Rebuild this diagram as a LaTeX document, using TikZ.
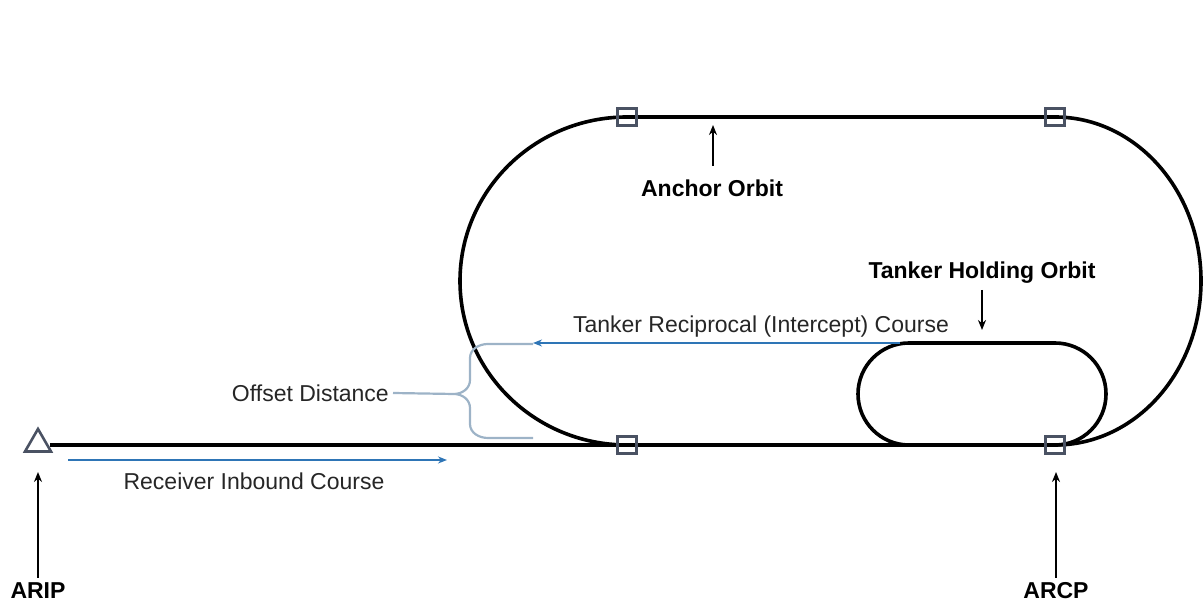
\documentclass[tikz,border=0pt]{standalone}
\usepackage{fontspec}
\setmainfont{Liberation Sans}
\usetikzlibrary{arrows.meta,shapes.geometric}
\definecolor{courseblue}{HTML}{2E75B6}
\definecolor{bracegray}{HTML}{9DB3C7}
\definecolor{markgray}{HTML}{4A5263}
\definecolor{txtgray}{HTML}{262626}
\tikzset{
  orbit/.style={line width=3.6pt, black},
  marker/.style={draw=markgray, line width=2.2pt, minimum width=19pt, minimum height=17pt, inner sep=0pt, fill=none},
  tri/.style={regular polygon, regular polygon sides=3, draw=markgray, line width=2.6pt, minimum size=30pt, inner sep=0pt},
  lab/.style={font=\fontsize{23}{27}\selectfont, text=txtgray, inner sep=1pt},
  blab/.style={font=\fontsize{23}{27}\selectfont\bfseries, text=black, inner sep=1pt},
  pointer/.style={line width=2.4pt, -{Stealth[length=10pt,width=8pt]}},
  course/.style={line width=2.8pt, courseblue, -{Stealth[length=9pt,width=7pt]}},
  bracestyle/.style={line width=2.2pt, bracegray}
}
\begin{document}
\begin{tikzpicture}[x=1pt,y=1pt]
\useasboundingbox (0,0) rectangle (1204,604);
% anchor orbit
\draw[orbit] (627,487) -- (1055,487) arc[start angle=90,end angle=-90,x radius=146,y radius=164]
  (1055,159) -- (627,159) arc[start angle=270,end angle=90,x radius=167,y radius=164];
% receiver inbound line
\draw[orbit] (50,159) -- (627,159);
% tanker holding orbit
\draw[orbit] (909,261) -- (1055,261) arc[start angle=90,end angle=-90,radius=51]
  -- (909,159) arc[start angle=270,end angle=90,radius=51] -- cycle;
% markers
\node[marker] (sqTL) at (627,487) {};
\node[marker] (sqTR) at (1055,487) {};
\node[marker] (sqBL) at (627,159) {};
\node[marker] (sqBR) at (1055,159) {};
\node[tri] (arip) at (38,160) {};
% courses
\coordinate (recS) at (68,144);
\coordinate (recE) at (447,144);
\draw[course] (recS) -- (recE);
\coordinate (tanS) at (900,261);
\coordinate (tanE) at (533,261);
\draw[course] (tanS) -- (tanE);
% brace
\draw[bracestyle] (533,260) -- (488,260) to[out=180,in=90] (470,246) -- (470,224)
  to[out=270,in=0] (454,210) to[out=0,in=90] (470,196) -- (470,180)
  to[out=270,in=180] (488,166) -- (533,166);
\coordinate (braceTip) at (454,210);
% labels
\node[lab] (recvlab) at (254,123) {Receiver Inbound Course};
\node[lab] (tanlab) at (761,277) {Tanker Reciprocal (Intercept) Course};
\node[lab, anchor=east] (offlab) at (390,211) {Offset Distance};
\draw[bracestyle] (offlab.east) ++(3,0) -- (braceTip);
\node[blab] (anclab) at (712,416) {Anchor Orbit};
\node[blab] (holdlab) at (982,331) {Tanker Holding Orbit};
\node[blab] (ariplab) at (38,13) {ARIP};
\node[blab] (arcplab) at (1056,13) {ARCP};
% pointers
\coordinate (ancTip) at (713,479);
\coordinate (holdTip) at (982,274);
\coordinate (aripTip) at (38,132);
\coordinate (arcpTip) at (1056,132);
\draw[pointer] (713,438) -- (ancTip);
\draw[pointer] (holdlab.south -| holdTip) ++(0,-5) -- (holdTip);
\draw[pointer] (ariplab.north) ++(0,4) -- (aripTip);
\draw[pointer] (arcplab.north) ++(0,4) -- (arcpTip);
\end{tikzpicture}
\end{document}
